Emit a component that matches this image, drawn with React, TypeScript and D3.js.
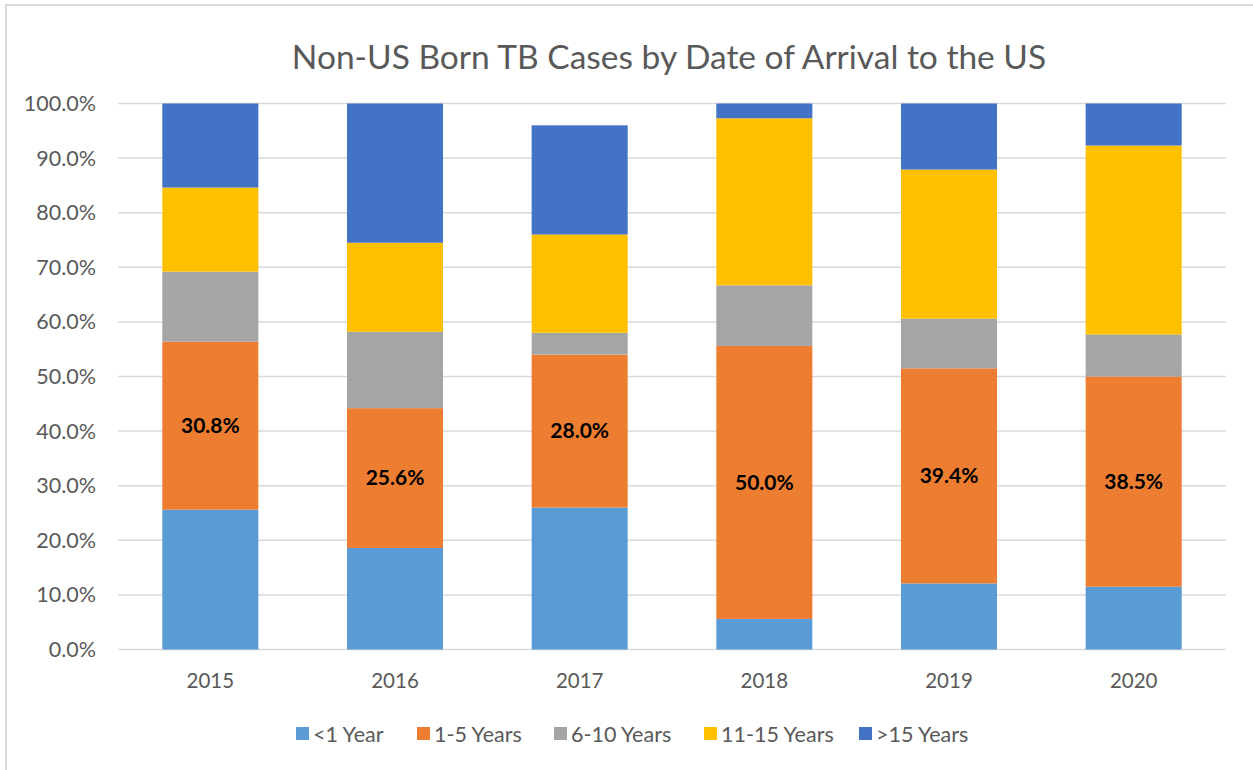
import React from "react";
import * as d3 from "d3";

const years = ["2015", "2016", "2017", "2018", "2019", "2020"];
const seriesNames = ["<1 Year", "1-5 Years", "6-10 Years", "11-15 Years", ">15 Years"];
const seriesColors = ["#5B9BD5", "#ED7D31", "#A5A5A5", "#FFC000", "#4472C4"];
const lessThan1 = [25.6, 18.6, 26.0, 5.6, 12.1, 11.5];
const oneToFive = [30.8, 25.6, 28.0, 50.0, 39.4, 38.5];
const sixToTen = [12.8, 14.0, 4.0, 11.1, 9.1, 7.7];
const elevenToFifteen = [15.4, 16.3, 18.0, 30.6, 27.3, 34.6];
const over15 = [15.4, 25.5, 20.0, 2.7, 12.1, 7.7];
const yTicks = [0, 10, 20, 30, 40, 50, 60, 70, 80, 90, 100];
const title = "Non-US Born TB Cases by Date of Arrival to the US";

const W = 1253;
const H = 770;
const FONT = "Lato, 'Open Sans', sans-serif";

export default function App() {
  const seriesValues = [lessThan1, oneToFive, sixToTen, elevenToFifteen, over15];
  const rows = years.map((y, i) => {
    const r: any = { year: y };
    seriesNames.forEach((s, k) => (r[s] = seriesValues[k][i]));
    return r;
  });
  const stacked = d3.stack().keys(seriesNames)(rows);

  const x = d3.scaleBand().domain(years).range([118, 1226]).paddingInner(0.48).paddingOuter(0.24);
  const y = d3.scaleLinear().domain([0, 100]).range([649.5, 103.5]);

  const legendX = [296, 417, 554, 704, 859];

  return (
    <svg width={W} height={H} style={{ position: "absolute", left: 0, top: 0, background: "#fff" }}>
      <rect x={6} y={5} width={W} height={H} fill="#fff" stroke="#D9D9D9" strokeWidth={2} />
      <text x={669} y={69} textAnchor="middle" fontFamily={FONT} fontSize={33.5} fill="#595959">
        {title}
      </text>
      {yTicks.map((t) => (
        <g key={t}>
          <line x1={118} x2={1226} y1={y(t)} y2={y(t)} stroke="#D9D9D9" strokeWidth={1.5} />
          <text x={96} y={y(t)} dy="0.35em" textAnchor="end" fontFamily={FONT} fontSize={21.5} fill="#595959">
            {t.toFixed(1) + "%"}
          </text>
        </g>
      ))}
      {stacked.map((s, k) => (
        <g key={s.key} fill={seriesColors[k]}>
          {s.map((d, i) => (
            <rect
              key={i}
              x={x(years[i])}
              width={x.bandwidth()}
              y={y(d[1])}
              height={y(d[0]) - y(d[1])}
            />
          ))}
        </g>
      ))}
      {stacked[1].map((d, i) => (
        <text
          key={i}
          x={(x(years[i]) as number) + x.bandwidth() / 2}
          y={(y(d[0]) + y(d[1])) / 2}
          dy="0.35em"
          textAnchor="middle"
          fontFamily={FONT}
          fontWeight="bold"
          fontSize={21}
          fill="#000"
        >
          {oneToFive[i].toFixed(1) + "%"}
        </text>
      ))}
      {years.map((yr) => (
        <text
          key={yr}
          x={(x(yr) as number) + x.bandwidth() / 2}
          y={681}
          dy="0.35em"
          textAnchor="middle"
          fontFamily={FONT}
          fontSize={20.5}
          fill="#595959"
        >
          {yr}
        </text>
      ))}
      {seriesNames.map((s, k) => (
        <g key={s}>
          <rect x={legendX[k]} y={727} width={13} height={13} fill={seriesColors[k]} />
          <text x={legendX[k] + 17} y={734} dy="0.35em" fontFamily={FONT} fontSize={21.5} fill="#595959">
            {s}
          </text>
        </g>
      ))}
    </svg>
  );
}
